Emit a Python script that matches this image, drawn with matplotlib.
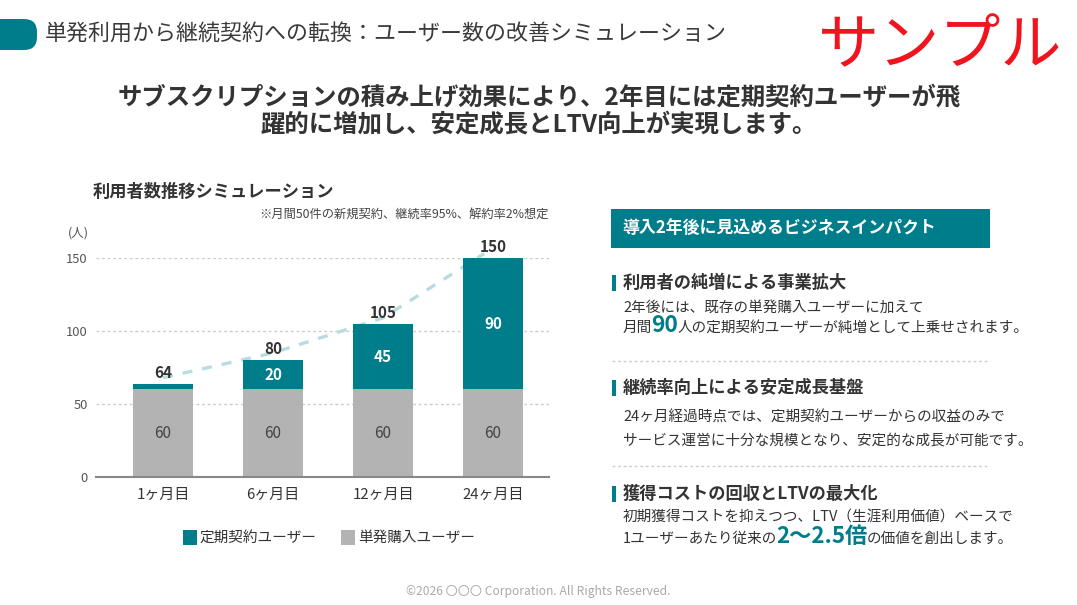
import numpy as np
import matplotlib
matplotlib.use('Agg')
from matplotlib import pyplot as plt
from matplotlib.patches import FancyBboxPatch, Rectangle
from matplotlib.lines import Line2D

plt.rcParams['font.family'] = ['Noto Sans CJK JP', 'DejaVu Sans']

# data
months = ['1ヶ月目', '6ヶ月目', '12ヶ月目', '24ヶ月目']
single_users = [60, 60, 60, 60]
sub_users = [4, 20, 45, 90]
totals = [64, 80, 105, 150]
trend = [68, 85, 109, 153]
y_ticks = [0, 50, 100, 150]

TEAL = '#007d8a'
GRAY = '#b3b3b3'
DARK = '#333333'
W, H = 1077, 605

fig = plt.figure(figsize=(W / 100, H / 100), dpi=100)
fig.patch.set_facecolor('white')


def px(x, y):
    return x / W, 1 - y / H


def ftext(x, y, s, **kw):
    kw.setdefault('color', DARK)
    return fig.text(*px(x, y), s, **kw)


# header
fig.patches.append(FancyBboxPatch(px(-12, 50), 49 / W, 31 / H,
                                  boxstyle='round,pad=0,rounding_size=0.012',
                                  transform=fig.transFigure, facecolor=TEAL,
                                  edgecolor='none', mutation_aspect=W / H))
ftext(45, 35, '単発利用から継続契約への転換：ユーザー数の改善シミュレーション',
      fontsize=15.8, va='center', color='#3a3a3a')
ftext(940, 47, 'サンプル', fontsize=44, color='#f0141e', ha='center', va='center')

ftext(539, 97, 'サブスクリプションの積み上げ効果により、2年目には定期契約ユーザーが飛',
      fontsize=17.6, fontweight='bold', ha='center', va='center')
ftext(539, 124, '躍的に増加し、安定成長とLTV向上が実現します。',
      fontsize=17.6, fontweight='bold', ha='center', va='center')

# chart
ftext(93, 192, '利用者数推移シミュレーション', fontsize=12.4, fontweight='bold', va='center')
ftext(549, 214, '※月間50件の新規契約、継続率95%、解約率2%想定', fontsize=8.8,
      ha='right', va='center', color='#444444')
ftext(68, 233, '(人)', fontsize=9, va='center', color='#555555')

ax = fig.add_axes([96 / W, 1 - 477 / H, (549 - 96) / W, (477 - 258) / H])
x = np.arange(len(months))
ax.bar(x, single_users, width=0.55, color=GRAY, zorder=2)
ax.bar(x, sub_users, width=0.55, bottom=single_users, color=TEAL, zorder=2)
ax.plot(x[:3].tolist() + [2.92], trend, ls=(0, (3, 3)), color='#b9dce1', lw=2.4,
        zorder=1, clip_on=False)
ax.set_xlim(-0.61, 3.51)
ax.set_ylim(0, 150)
ax.set_yticks(y_ticks)
ax.set_xticks(x)
ax.set_xticklabels(months, fontsize=10.8, color=DARK)
ax.tick_params(axis='y', length=0, labelsize=9.3, labelcolor='#555555', pad=6)
ax.tick_params(axis='x', length=0, pad=8)
for s in ['top', 'right', 'left']:
    ax.spines[s].set_visible(False)
ax.spines['bottom'].set_color('#888888')
ax.spines['bottom'].set_linewidth(1.5)
for yv in y_ticks[1:]:
    ax.axhline(yv, color='#cccccc', lw=1, ls=(0, (2, 2)), zorder=0)

for i in range(len(months)):
    ax.text(x[i], single_users[i] / 2, str(single_users[i]), ha='center', va='center',
            fontsize=11, color='#444444')
    if sub_users[i] >= 10:
        ax.text(x[i], single_users[i] + sub_users[i] / 2, str(sub_users[i]),
                ha='center', va='center', fontsize=11, color='white', fontweight='bold')
    ax.text(x[i], totals[i] + 2, str(totals[i]), ha='center', va='bottom',
            fontsize=11, color=DARK, fontweight='bold', clip_on=False)

# legend
fig.patches.append(Rectangle(px(183, 545), 14 / W, 15 / H, transform=fig.transFigure,
                             facecolor=TEAL, edgecolor='none'))
ftext(200, 538, '定期契約ユーザー', fontsize=10.5, va='center')
fig.patches.append(Rectangle(px(341, 545), 14 / W, 15 / H, transform=fig.transFigure,
                             facecolor=GRAY, edgecolor='none'))
ftext(358, 538, '単発購入ユーザー', fontsize=10.5, va='center')

# right panel
fig.patches.append(Rectangle(px(611, 248), 379 / W, 39 / H, transform=fig.transFigure,
                             facecolor=TEAL, edgecolor='none'))
ftext(622, 228, '導入2年後に見込めるビジネスインパクト', fontsize=12.2, color='white',
      fontweight='bold', va='center')

renderer = fig.canvas.get_renderer()


def rich_line(x0, y, parts):
    # parts: list of (text, size, color, weight)
    cx = x0
    for s, size, col, wt in parts:
        t = ftext(cx, y, s, fontsize=size, color=col, fontweight=wt, va='baseline')
        bb = t.get_window_extent(renderer)
        cx += bb.width - 1


sections = [
    (283, '利用者の純増による事業拡大',
     [(312, [('2年後には、既存の単発購入ユーザーに加えて', 10.5, DARK, 'normal')]),
      (332, [('月間', 10.5, DARK, 'normal'), ('90', 16.5, TEAL, 'bold'),
             ('人の定期契約ユーザーが純増として上乗せされます。', 10.5, DARK, 'normal')])]),
    (388, '継続率向上による安定成長基盤',
     [(422, [('24ヶ月経過時点では、定期契約ユーザーからの収益のみで', 10.5, DARK, 'normal')]),
      (445, [('サービス運営に十分な規模となり、安定的な成長が可能です。', 10.5, DARK, 'normal')])]),
    (494, '獲得コストの回収とLTVの最大化',
     [(522, [('初期獲得コストを抑えつつ、LTV（生涯利用価値）ベースで', 10.5, DARK, 'normal')]),
      (543, [('1ユーザーあたり従来の', 10.5, DARK, 'normal'), ('2〜2.5倍', 16, TEAL, 'bold'),
             ('の価値を創出します。', 10.5, DARK, 'normal')])]),
]

for hy, head, lines in sections:
    fig.patches.append(Rectangle(px(612, hy + 8), 4 / W, 16 / H, transform=fig.transFigure,
                                 facecolor=TEAL, edgecolor='none'))
    ftext(623, hy, head, fontsize=12.4, fontweight='bold', va='center')
    for ly, parts in lines:
        rich_line(623, ly, parts)

for sy in [361, 466]:
    fig.lines.append(Line2D([612 / W, 990 / W], [1 - sy / H, 1 - sy / H],
                            transform=fig.transFigure, color='#cccccc', lw=1,
                            ls=(0, (2, 2))))

ftext(538, 592, '©2026 〇〇〇 Corporation. All Rights Reserved.', fontsize=8.7,
      ha='center', va='center', color='#aaaaaa')

fig.savefig('out.png', dpi=100, facecolor='white')
